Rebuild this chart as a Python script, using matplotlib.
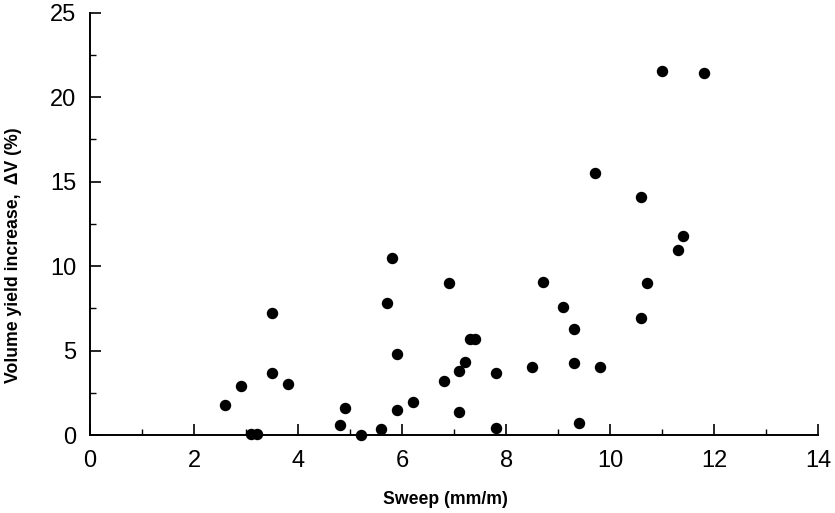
import numpy as np
import matplotlib.pyplot as plt
from matplotlib.ticker import MultipleLocator

# sweep (mm/m) vs volume yield increase (%)
sweep = [2.6, 2.9, 3.1, 3.2, 3.5, 3.5, 3.8, 4.8, 4.9, 5.2, 5.6, 5.7, 5.8, 5.9,
         5.9, 6.2, 6.8, 6.9, 7.1, 7.1, 7.2, 7.3, 7.4, 7.8, 7.8, 8.5, 8.7, 9.1,
         9.3, 9.3, 9.4, 9.7, 9.8, 10.6, 10.6, 10.7, 11.0, 11.3, 11.4, 11.8]
dv = [1.75, 2.9, 0.06, 0.08, 7.2, 3.7, 3.0, 0.57, 1.6, 0.0, 0.34, 7.8, 10.5, 4.8,
      1.5, 1.95, 3.2, 9.0, 1.35, 3.8, 4.3, 5.7, 5.7, 3.7, 0.43, 4.05, 9.05, 7.6,
      6.3, 4.25, 0.7, 15.5, 4.0, 14.1, 6.9, 9.0, 21.55, 10.95, 11.8, 21.45]

plt.rcParams["font.family"] = ["Liberation Sans", "DejaVu Sans"]

fig = plt.figure(figsize=(8.35, 5.13), dpi=100)
ax = fig.add_axes([0.108, 0.152, 0.872, 0.823])

ax.scatter(sweep, dv, s=52, color="black", zorder=3, clip_on=False)

ax.set_xlim(0, 14)
ax.set_ylim(0, 25)
ax.xaxis.set_major_locator(MultipleLocator(2))
ax.xaxis.set_minor_locator(MultipleLocator(1))
ax.yaxis.set_major_locator(MultipleLocator(5))
ax.yaxis.set_minor_locator(MultipleLocator(2.5))

for side in ["top", "right"]:
    ax.spines[side].set_visible(False)
for side in ["left", "bottom"]:
    ax.spines[side].set_linewidth(1.4)

ax.tick_params(which="major", direction="in", length=8, width=1.2, labelsize=17)
ax.tick_params(axis="x", which="major", pad=11)
ax.tick_params(axis="y", which="major", pad=10)
ax.tick_params(which="minor", direction="in", length=4, width=1.0)

# axis titles placed in figure coordinates
fig.text(445 / 835, 1 - 499 / 513, "Sweep (mm/m)", fontsize=12.7, fontweight="bold",
         ha="center", va="center")
fig.text(14 / 835, 1 - 255 / 513, "Volume yield increase,  ΔV (%)", fontsize=12.7,
         fontweight="bold", ha="center", va="center", rotation=90)

fig.savefig("out.png", dpi=100)
